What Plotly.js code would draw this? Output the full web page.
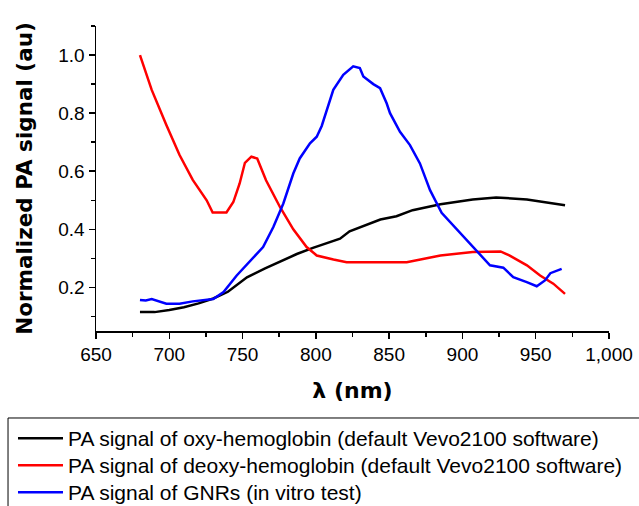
<!DOCTYPE html>
<html>
<head>
<meta charset="utf-8">
<script src="https://cdn.plot.ly/plotly-3.0.1.min.js"></script>
<style>html,body{margin:0;padding:0;background:#fff;}#chart{width:639px;height:506px;}</style>
</head>
<body>
<div id="chart"></div>
<script>
// Oxy-hemoglobin (black)
const oxyWavelength = [680,690,700,710,720,730,740,753,765,776,787,798,808,816.5,823,830,844,855,866,885,907,923,944,970];
const oxySignal = [0.115,0.115,0.122,0.132,0.145,0.162,0.185,0.235,0.265,0.29,0.315,0.336,0.352,0.368,0.393,0.406,0.434,0.445,0.466,0.486,0.503,0.51,0.503,0.483];

// Deoxy-hemoglobin (red)
const deoxyWavelength = [680,688,698,707,716,725.5,729.6,739,743.7,748,751.6,756,760,766,775.5,784.6,793.7,800.6,812,821,862,885,907,926,932,944,953,962,970];
const deoxySignal = [1.0,0.88,0.759,0.656,0.57,0.50,0.458,0.458,0.494,0.558,0.629,0.65,0.644,0.569,0.477,0.40,0.339,0.31,0.296,0.287,0.287,0.31,0.322,0.324,0.31,0.276,0.241,0.213,0.178];

// GNRs in vitro (blue)
const gnrWavelength = [680,684,688,693,698,707,716,730,737,746,755.5,764,771,777.8,784.6,789,796,800.6,804,808.5,811.9,818.7,825.5,830,832.4,839.2,843.8,848.3,850.6,857.4,864.2,871,877.9,885.8,896,907.4,918.8,927.9,934.7,943.9,950.7,956.3,960,967.7];
const gnrSignal = [0.157,0.155,0.16,0.152,0.144,0.144,0.152,0.16,0.184,0.241,0.293,0.339,0.408,0.489,0.592,0.644,0.696,0.719,0.756,0.823,0.88,0.932,0.961,0.955,0.926,0.90,0.886,0.834,0.80,0.736,0.69,0.627,0.535,0.457,0.40,0.339,0.276,0.268,0.235,0.218,0.204,0.224,0.249,0.264];

const seriesNames = [
  "PA signal of oxy-hemoglobin (default Vevo2100 software)",
  "PA signal of deoxy-hemoglobin (default Vevo2100 software)",
  "PA signal of GNRs (in vitro test)"
];
const xTickVals = [650,700,750,800,850,900,950,1000];
const yTickVals = [0.2,0.4,0.6,0.8,1.0];

const font = "Liberation Sans, Arial, sans-serif";
const titleFont = "DejaVu Sans, sans-serif";
const traces = [
  {x: oxyWavelength, y: oxySignal, name: seriesNames[0], legend: "legend", mode: "lines", line: {color: "#000000", width: 2.5}},
  {x: deoxyWavelength, y: deoxySignal, name: seriesNames[1], legend: "legend2", mode: "lines", line: {color: "#ff0000", width: 2.5}},
  {x: gnrWavelength, y: gnrSignal, name: seriesNames[2], legend: "legend3", mode: "lines", line: {color: "#0000ff", width: 2.5}}
];

function legendAt(yPaper) {
  return {
    x: -0.1618, y: yPaper, xanchor: "left", yanchor: "top",
    borderwidth: 0, bgcolor: "rgba(0,0,0,0)",
    font: {family: font, size: 21, color: "#000"},
    itemwidth: 45
  };
}

const layout = {
  width: 639, height: 506,
  margin: {l: 96, r: 30, t: 26, b: 175, autoexpand: false},
  paper_bgcolor: "#fff", plot_bgcolor: "#fff",
  font: {family: font, size: 19, color: "#000"},
  showlegend: true,
  legend: legendAt(-0.2852),
  legend2: legendAt(-0.3738),
  legend3: legendAt(-0.4623),
  shapes: [{
    type: "rect", xref: "paper", yref: "paper",
    x0: -0.1715, x1: 1.09, y0: -0.2852, y1: -0.62,
    line: {color: "#000", width: 1}, fillcolor: "rgba(0,0,0,0)", layer: "above"
  }],
  xaxis: {
    range: [650, 1000],
    tickvals: xTickVals, tickformat: ",d",
    ticks: "outside", ticklen: 6, tickwidth: 1.5, tickcolor: "#000",
    minor: {dtick: 25, tick0: 650, ticks: "outside", ticklen: 4, tickwidth: 1.5, tickcolor: "#000", showgrid: false},
    showline: true, linecolor: "#000", linewidth: 1.5,
    showgrid: false, zeroline: false,
    tickfont: {family: font, size: 19, color: "#000"},
    title: {text: "<b>λ (nm)</b>", font: {family: titleFont, size: 22, color: "#000"}, standoff: 18}
  },
  yaxis: {
    range: [0.05, 1.1],
    tickvals: yTickVals, tickformat: ".1f",
    ticks: "outside", ticklen: 6, tickwidth: 1.5, tickcolor: "#000",
    minor: {dtick: 0.1, tick0: 0.1, ticks: "outside", ticklen: 4, tickwidth: 1.5, tickcolor: "#000", showgrid: false},
    showline: true, linecolor: "#000", linewidth: 1.5,
    showgrid: false, zeroline: false,
    tickfont: {family: font, size: 19, color: "#000"},
    title: {text: "<b>Normalized PA signal (au)</b>", font: {family: titleFont, size: 21.5, color: "#000"}, standoff: 20}
  }
};

Plotly.newPlot("chart", traces, layout, {displayModeBar: false, staticPlot: true});
</script>
</body>
</html>
